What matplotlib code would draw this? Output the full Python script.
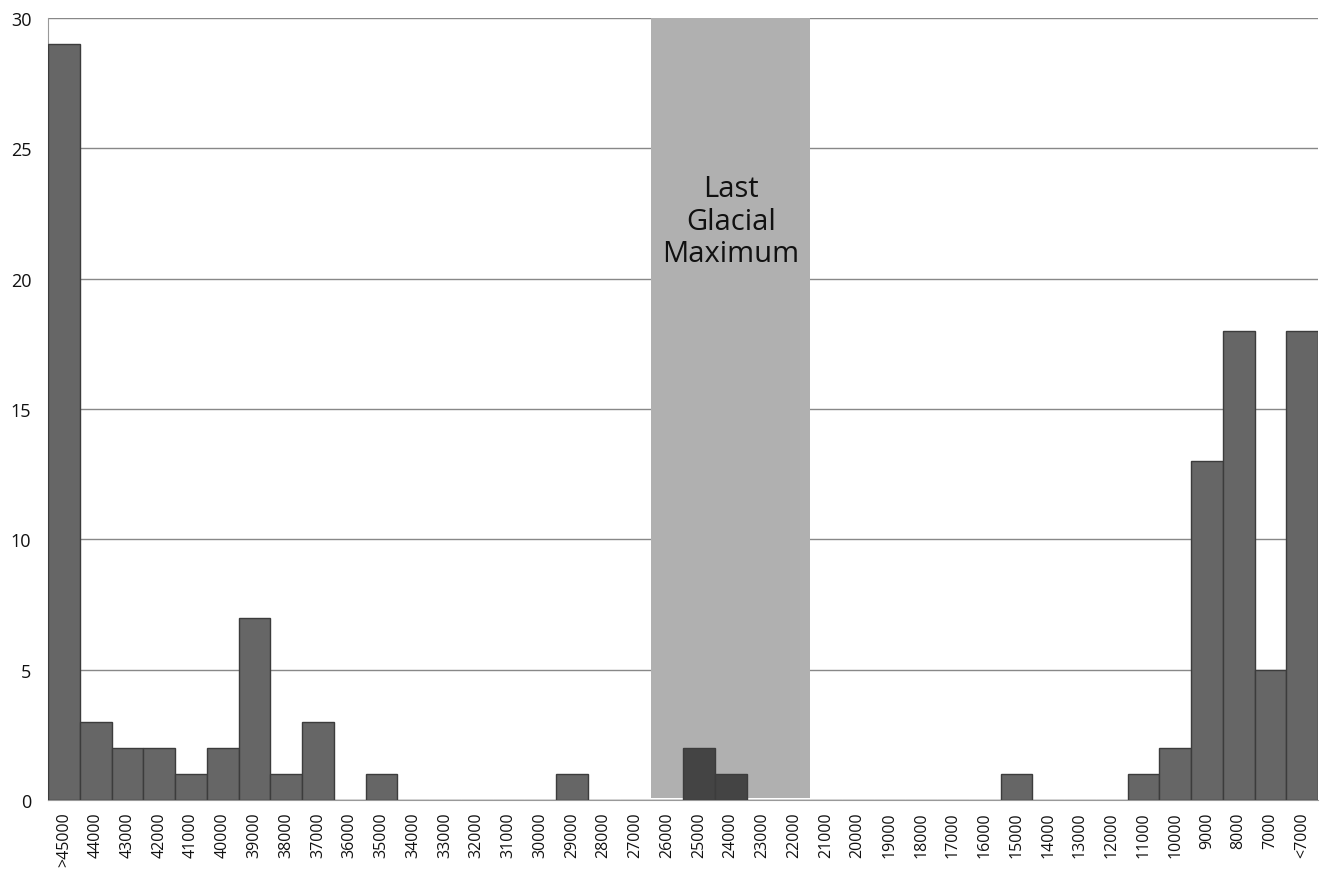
import numpy as np
import matplotlib.pyplot as plt

plt.rcParams['font.family'] = ['Open Sans', 'DejaVu Sans']

labels = ['>45000'] + [str(v) for v in range(44000, 6000, -1000)] + ['<7000']
counts = [29, 3, 2, 2, 1, 2, 7, 1, 3, 0,
          1, 0, 0, 0, 0, 0, 1, 0, 0, 0,
          2, 1, 0, 0, 0, 0, 0, 0, 0, 0,
          1, 0, 0, 0, 1, 2, 13, 18, 5, 18]
lgm_start, lgm_end = '26000', '22000'

fig = plt.figure(figsize=(13.2, 8.7), dpi=100)
ax = fig.add_axes([0.0364, 0.0793, 0.9621, 0.8989])

i0 = labels.index(lgm_start)
i1 = labels.index(lgm_end) + 1
ax.axvspan(i0, i1, ymin=0.003, ymax=1, color='#b0b0b0', zorder=1, lw=0)

x = np.arange(len(labels))
colors = ['#444444' if i0 <= i < i1 else '#666666' for i in x]
ax.bar(x, counts, width=1, align='edge', color=colors, edgecolor='#3c3c3c',
       linewidth=1, zorder=3)

for y in range(5, 31, 5):
    ax.axhline(y, color='#888888', lw=1, zorder=0)

ax.text((i0 + i1) / 2, 22.2, 'Last\nGlacial\nMaximum', ha='center', va='center',
        fontsize=21, color='#111111', linespacing=1.15, zorder=4)

ax.set_xlim(0, len(labels))
ax.set_ylim(0, 30)
ax.set_yticks(range(0, 31, 5))
ax.set_xticks(x + 0.5)
ax.set_xticklabels(labels, rotation=90, fontsize=11.5, color='#111111')
ax.tick_params(axis='y', labelsize=13, length=0, pad=12, labelcolor='#111111')
ax.tick_params(axis='x', length=0, pad=8)
for s in ['top', 'right']:
    ax.spines[s].set_visible(False)
ax.spines['left'].set_color('#999999')
ax.spines['bottom'].set_color('#999999')

fig.savefig('out.png', dpi=100)
